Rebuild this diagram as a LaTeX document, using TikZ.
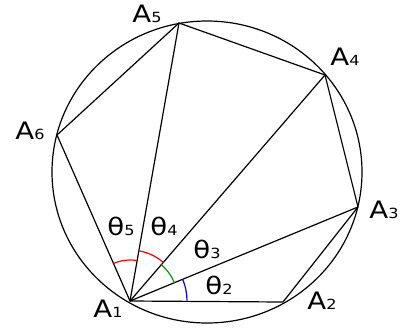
\documentclass[tikz,border=0pt]{standalone}
\usepackage{fontspec}
\usetikzlibrary{calc}
\setmainfont{DejaVu Sans}[FakeStretch=1.15]
\newcommand{\lbl}[2]{{\fontsize{24}{24}\selectfont #1}{\fontsize{14}{14}\selectfont #2}}
\begin{document}
\begin{tikzpicture}[x=1pt,y=-1pt,
  edge/.style={line width=1.2pt,black},
  lab/.style={inner sep=0pt,anchor=center,text=black},
  anglemark/.style={line width=1.2pt}]
\useasboundingbox (0,0) rectangle (401,327);
\coordinate (A1) at (130,301);
\coordinate (A2) at (283,302);
\coordinate (A3) at (358,207);
\coordinate (A4) at (325,75);
\coordinate (A5) at (179,23);
\coordinate (A6) at (57,135);
\coordinate (O) at (207,172);
\draw[edge] (O) ellipse [x radius=155, y radius=151];
\draw[edge] (A1) -- (A2) -- (A3) -- (A4) -- (A5) -- (A6) -- cycle;
\draw[edge] (A1) -- (A3);
\draw[edge] (A1) -- (A4);
\draw[edge] (A1) -- (A5);
% angle marks (y axis flipped: negative angles go up)
\draw[anglemark,blue] ($(A1)+(-0.4:57)$) arc [start angle=-0.4, end angle=-22.4, radius=57];
\draw[anglemark,green!60!black] ($(A1)+(-22.4:48)$) arc [start angle=-22.4, end angle=-49.2, radius=48];
\draw[anglemark,red] ($(A1)+(-49.2:51)$) arc [start angle=-49.2, end angle=-80, radius=51];
\draw[anglemark,red] ($(A1)+(-80:41)$) arc [start angle=-80, end angle=-113.7, radius=41];
\node[lab] (l1) at (108,309) {\lbl{A}{1}};
\node[lab] (l2) at (322,301) {\lbl{A}{2}};
\node[lab] (l3) at (384,210) {\lbl{A}{3}};
\node[lab] (l4) at (345,57) {\lbl{A}{4}};
\node[lab] (l5) at (147,14) {\lbl{A}{5}};
\node[lab] (l6) at (30,131) {\lbl{A}{6}};
\node[lab] (t5) at (121,226) {\lbl{θ}{5}};
\node[lab] (t4) at (164,226) {\lbl{θ}{4}};
\node[lab] (t3) at (207,249) {\lbl{θ}{3}};
\node[lab] (t2) at (219,285) {\lbl{θ}{2}};
\end{tikzpicture}
\end{document}
